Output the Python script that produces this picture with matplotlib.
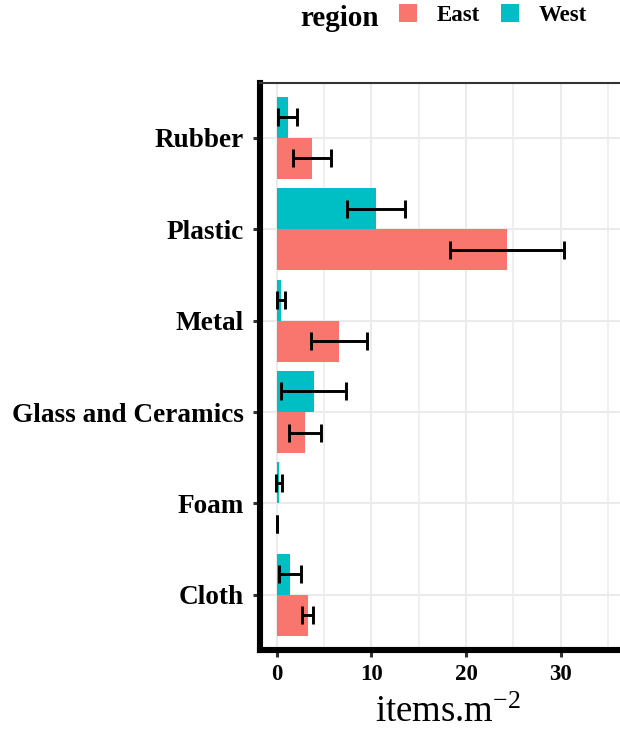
import matplotlib
matplotlib.use("Agg")
import matplotlib.pyplot as plt
from matplotlib.patches import Patch
from matplotlib.ticker import MultipleLocator
import numpy as np

# Litter density by material type and region (mean ± standard error)
categories = ["Cloth", "Foam", "Glass and Ceramics", "Metal", "Plastic", "Rubber"]
east_mean = [3.3, 0.0, 3.0, 6.55, 24.3, 3.72]
east_se = [0.58, 0.0, 1.67, 2.95, 6.0, 2.0]
west_mean = [1.37, 0.23, 3.9, 0.47, 10.5, 1.15]
west_se = [1.17, 0.3, 3.4, 0.4, 3.1, 1.03]
x_ticks = [0, 10, 20, 30]

EAST = "#F8766D"
WEST = "#00BFC4"
GRID = "#EBEBEB"
DARK = "#333333"

plt.rcParams["font.family"] = ["Liberation Serif", "DejaVu Serif"]
plt.rcParams["mathtext.fontset"] = "custom"
plt.rcParams["mathtext.rm"] = "Liberation Serif"
plt.rcParams["mathtext.it"] = "Liberation Serif:italic"

fig = plt.figure(figsize=(6.2, 7.33), dpi=100)
W, H = 620, 733
left_px, right_px, top_px, bot_px = 260, 636.6, 83, 649.7
ax = fig.add_axes([left_px / W, 1 - bot_px / H,
                   (right_px - left_px) / W, (bot_px - top_px) / H])

y = np.arange(1, len(categories) + 1)
bw = 0.45
ax.barh(y - bw / 2, east_mean, height=bw, color=EAST, zorder=2)
ax.barh(y + bw / 2, west_mean, height=bw, color=WEST, zorder=2)

err_kw = dict(fmt="none", ecolor="black", elinewidth=2.1, capsize=6.5,
              capthick=2.1, zorder=3)
ax.errorbar(east_mean, y - bw / 2, xerr=east_se, **err_kw)
ax.errorbar(west_mean, y + bw / 2, xerr=west_se, **err_kw)

ax.set_xlim(-1.76, 38)
ax.set_ylim(0.4, 6.6)
ax.set_yticks(y)
ax.set_yticklabels(categories, fontsize=19.6, fontweight="bold")
ax.set_xticks(x_ticks)
ax.set_xticklabels([str(t) for t in x_ticks], fontsize=16.5, fontweight="bold")
ax.xaxis.set_minor_locator(MultipleLocator(5))

ax.set_axisbelow(True)
ax.grid(True, which="major", axis="both", color=GRID, linewidth=1.5, zorder=0)
ax.grid(True, which="minor", axis="x", color=GRID, linewidth=1.1, zorder=0)

ax.tick_params(axis="both", which="major", length=5.2, width=2.2, color=DARK,
               pad=5)
ax.tick_params(axis="y", pad=6.5)
ax.tick_params(axis="both", which="minor", length=0)

for side in ("left", "bottom"):
    ax.spines[side].set_linewidth(4.4)
    ax.spines[side].set_color("black")
    ax.spines[side].set_capstyle("projecting")
ax.spines["top"].set_linewidth(1.5)
ax.spines["top"].set_color(DARK)
ax.spines["right"].set_visible(False)

ax.set_xlabel(r"items.m$^{-2}$", fontsize=26.5, labelpad=8)

# legend across the top
fig.text(300.7 / W, 1 - 26 / H, "region", fontsize=21, fontweight="bold",
         ha="left", va="baseline")
handles = [Patch(facecolor=EAST, edgecolor="none", label="East"),
           Patch(facecolor=WEST, edgecolor="none", label="West")]
leg = fig.legend(handles=handles, loc="center left",
                 bbox_to_anchor=(399 / W, 1 - 15 / H), ncol=2, frameon=False,
                 borderpad=0, borderaxespad=0, handlelength=0.79,
                 handleheight=0.79, handletextpad=0.86, columnspacing=0.9,
                 prop=dict(family="Liberation Serif", weight="bold", size=16.5))

fig.savefig("out.png", dpi=100)
